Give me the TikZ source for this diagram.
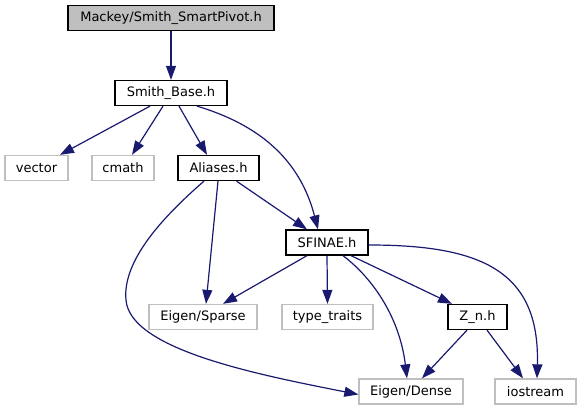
\documentclass[tikz,border=0pt]{standalone}
\usepackage{fontspec}
\setmainfont{DejaVu Sans}
\usetikzlibrary{arrows.meta}
\definecolor{edgec}{HTML}{191970}
\definecolor{grayb}{HTML}{BFBFBF}
\tikzset{
  box/.style={draw=black, line width=1.3pt, minimum height=25pt, inner sep=0pt, font=\fontsize{13}{15}\selectfont, anchor=center},
  sysbox/.style={box, draw=grayb},
  topbox/.style={box, fill=grayb},
  dep/.style={draw=edgec, line width=1.2pt, -{Triangle[length=14pt,width=10pt]}},
}
\begin{document}
\begin{tikzpicture}[x=1pt,y=-1pt]
\useasboundingbox (0,0) rectangle (581,411);
\node[topbox, minimum width=206pt] (top) at (171,18) {Mackey/Smith\_SmartPivot.h};
\node[box, minimum width=112pt] (sb) at (171,93) {Smith\_Base.h};
\node[sysbox, minimum width=63pt] (vec) at (36.5,168) {vector};
\node[sysbox, minimum width=62pt] (cmath) at (123,168) {cmath};
\node[box, minimum width=81pt] (al) at (218.5,168) {Aliases.h};
\node[box, minimum width=82pt] (sf) at (327,242.5) {SFINAE.h};
\node[sysbox, minimum width=108pt] (sp) at (203,317) {Eigen/Sparse};
\node[sysbox, minimum width=91pt] (tt) at (327.5,317) {type\_traits};
\node[box, minimum width=59pt] (zn) at (477.5,317) {Z\_n.h};
\node[sysbox, minimum width=104pt] (de) at (411,391.5) {Eigen/Dense};
\node[sysbox, minimum width=81pt] (io) at (535.5,391.5) {iostream};

\draw[dep] (top.south) -- (sb.north);
\draw[dep] ([xshift=-21pt]sb.south) -- ([xshift=23.5pt]vec.north);
\draw[dep] ([xshift=-8pt]sb.south) -- ([xshift=9pt]cmath.north);
\draw[dep] ([xshift=8pt]sb.south) -- ([xshift=-11.5pt]al.north);
\draw[dep] ([xshift=26pt]sb.south) .. controls (260,125) and (300,160) .. ([xshift=-9pt]sf.north);
\draw[dep] ([xshift=-0.5pt]al.south) -- ([xshift=3pt]sp.north);
\draw[dep] ([xshift=18pt]al.south) -- ([xshift=-20pt]sf.north);
\draw[dep] ([xshift=-14.5pt]al.south) .. controls (165,215) and (122,260) .. (126,300)
  .. controls (130,350) and (260,375) .. ([yshift=-3pt]de.west);
\draw[dep] ([xshift=-20pt]sf.south) -- ([xshift=20pt]sp.north);
\draw[dep] (sf.south) -- (tt.north);
\draw[dep] ([xshift=16pt]sf.south) .. controls (375,280) and (400,320) .. ([xshift=-4pt]de.north);
\draw[dep] ([xshift=24pt]sf.south) -- ([xshift=-25.5pt]zn.north);
\draw[dep] ([yshift=-2.5pt]sf.east) .. controls (480,245) and (540,270) .. ([xshift=1.5pt]io.north);
\draw[dep] ([xshift=-10.5pt]zn.south) -- ([xshift=11pt]de.north);
\draw[dep] ([xshift=9.5pt]zn.south) -- ([xshift=-12.5pt]io.north);
\end{tikzpicture}
\end{document}
